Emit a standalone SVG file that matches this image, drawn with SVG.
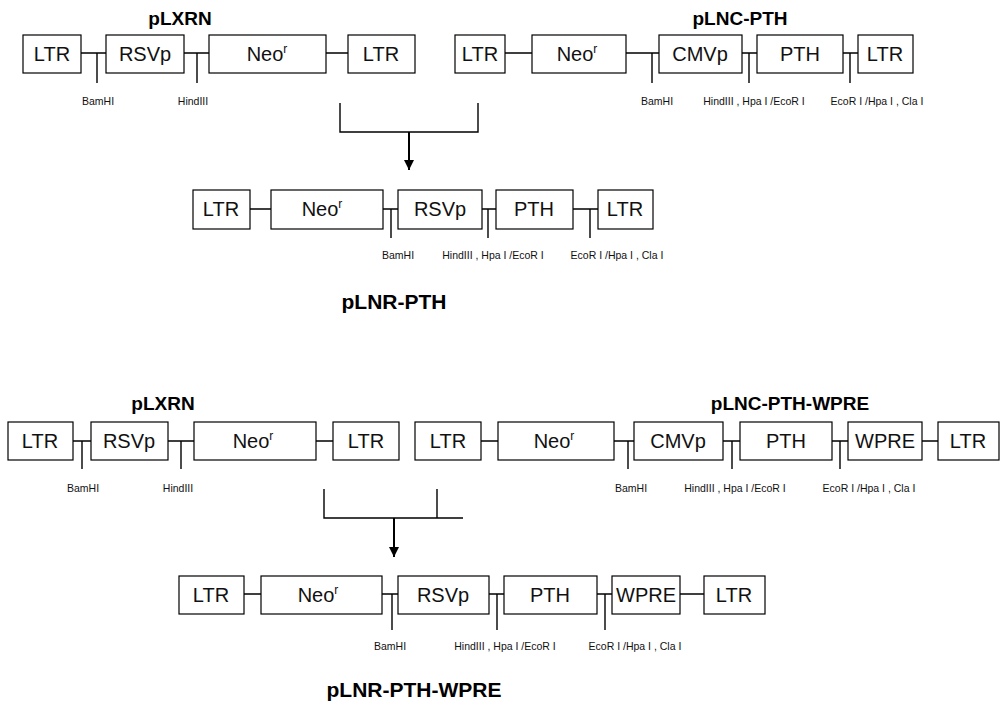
<svg xmlns="http://www.w3.org/2000/svg" width="1002" height="701" viewBox="0 0 1002 701">
<defs>
<style>
.b{fill:#fff;stroke:#000;stroke-width:1.2}
.t{font-family:"Liberation Sans",Arial,sans-serif;font-size:20px;text-anchor:middle;fill:#111}
.s{font-family:"Liberation Sans",Arial,sans-serif;font-size:10.5px;text-anchor:middle;fill:#111}
.h{font-family:"Liberation Sans",Arial,sans-serif;font-size:19px;font-weight:bold;text-anchor:middle;fill:#000}
.h2{font-family:"Liberation Sans",Arial,sans-serif;font-size:21px;font-weight:bold;text-anchor:middle;fill:#000}
.l{stroke:#000;stroke-width:1.4;fill:none}
.a{stroke:#000;stroke-width:2;fill:none}
.sup{font-size:12px}
</style>
<marker id="arr" viewBox="0 0 10 10" refX="10" refY="5" markerWidth="5" markerHeight="5" markerUnits="strokeWidth" orient="auto">
<path d="M0,0 L10,5 L0,10 z" fill="#000"/>
</marker>
</defs>
<rect width="1002" height="701" fill="#fff"/>

<g id="connectors">
<!-- row1 left -->
<path class="l" d="M81,53H106 M97,53V83 M184,53H209 M197,53V83 M326,53H348"/>
<!-- row1 right -->
<path class="l" d="M505,53H532 M626,53H659 M652,53V83 M742,53H757 M749,53V83 M843,53H858 M850,53V83"/>
<!-- bracket1 -->
<path class="l" d="M340,103V132H478V103"/>
<path class="a" d="M409,132V170" marker-end="url(#arr)"/>
<!-- row2 -->
<path class="l" d="M250,209H271 M383,209H398 M391,209V238 M482,209H496 M488,209V238 M573,209H598 M590,209V238"/>
<!-- row3 left -->
<path class="l" d="M73,441H91 M82,441V469 M168,441H194 M181,441V469 M316,441H333"/>
<!-- row3 right -->
<path class="l" d="M481,441H498 M614,441H634 M628,441V469 M723,441H740 M732,441V469 M832,441H848 M840,441V469 M922,441H938"/>
<!-- bracket2 -->
<path class="l" d="M324,489V518H463 M437,489V518"/>
<path class="a" d="M394,518V557" marker-end="url(#arr)"/>
<!-- row4 -->
<path class="l" d="M244,594H261 M382,594H398 M392,594V630 M489,594H504 M497,594V630 M597,594H612 M605,594V630 M680,594H704"/>
</g>

<!-- Row 1 left: pLXRN -->
<g id="pLXRN-1">
<text class="h" x="180" y="25">pLXRN</text>
<rect class="b" x="23" y="35" width="58" height="38"/><text class="t" x="52" y="61">LTR</text>
<rect class="b" x="106" y="35" width="78" height="38"/><text class="t" x="145" y="61">RSVp</text>
<rect class="b" x="209" y="35" width="117" height="38"/><text class="t" x="267" y="61">Neo<tspan class="sup" dy="-8">r</tspan></text>
<rect class="b" x="348" y="35" width="67" height="38"/><text class="t" x="381" y="61">LTR</text>
<text class="s" x="98" y="105">BamHI</text>
<text class="s" x="193" y="105">HindIII</text>
</g>

<!-- Row 1 right: pLNC-PTH -->
<g id="pLNC-PTH">
<text class="h" x="740" y="25">pLNC-PTH</text>
<rect class="b" x="455" y="35" width="50" height="38"/><text class="t" x="480" y="61">LTR</text>
<rect class="b" x="532" y="35" width="94" height="38"/><text class="t" x="577" y="61">Neo<tspan class="sup" dy="-8">r</tspan></text>
<rect class="b" x="659" y="35" width="83" height="38"/><text class="t" x="700" y="61">CMVp</text>
<rect class="b" x="757" y="35" width="86" height="38"/><text class="t" x="800" y="61">PTH</text>
<rect class="b" x="858" y="35" width="55" height="38"/><text class="t" x="885" y="61">LTR</text>
<text class="s" x="657" y="105">BamHI</text>
<text class="s" x="754" y="105">HindIII , Hpa I /EcoR I</text>
<text class="s" x="877" y="105">EcoR I /Hpa I , Cla I</text>
</g>

<!-- Row 2: pLNR-PTH -->
<g id="pLNR-PTH">
<rect class="b" x="193" y="190" width="57" height="39"/><text class="t" x="221" y="216">LTR</text>
<rect class="b" x="271" y="190" width="112" height="39"/><text class="t" x="322" y="216">Neo<tspan class="sup" dy="-8">r</tspan></text>
<rect class="b" x="398" y="190" width="84" height="39"/><text class="t" x="440" y="216">RSVp</text>
<rect class="b" x="496" y="190" width="77" height="39"/><text class="t" x="534" y="216">PTH</text>
<rect class="b" x="598" y="190" width="55" height="39"/><text class="t" x="625" y="216">LTR</text>
<text class="s" x="398" y="259">BamHI</text>
<text class="s" x="493" y="259">HindIII , Hpa I /EcoR I</text>
<text class="s" x="617" y="259">EcoR I /Hpa I , Cla I</text>
<text class="h2" x="394" y="309">pLNR-PTH</text>
</g>

<!-- Row 3 left: pLXRN -->
<g id="pLXRN-2">
<text class="h" x="163" y="410">pLXRN</text>
<rect class="b" x="8" y="422" width="65" height="38"/><text class="t" x="40" y="448">LTR</text>
<rect class="b" x="91" y="422" width="77" height="38"/><text class="t" x="129" y="448">RSVp</text>
<rect class="b" x="194" y="422" width="122" height="38"/><text class="t" x="253" y="448">Neo<tspan class="sup" dy="-8">r</tspan></text>
<rect class="b" x="333" y="422" width="66" height="38"/><text class="t" x="366" y="448">LTR</text>
<text class="s" x="83" y="492">BamHI</text>
<text class="s" x="178" y="492">HindIII</text>
</g>

<!-- Row 3 right: pLNC-PTH-WPRE -->
<g id="pLNC-PTH-WPRE">
<text class="h" x="790" y="410">pLNC-PTH-WPRE</text>
<rect class="b" x="415" y="422" width="66" height="38"/><text class="t" x="448" y="448">LTR</text>
<rect class="b" x="498" y="422" width="116" height="38"/><text class="t" x="554" y="448">Neo<tspan class="sup" dy="-8">r</tspan></text>
<rect class="b" x="634" y="422" width="89" height="38"/><text class="t" x="678" y="448">CMVp</text>
<rect class="b" x="740" y="422" width="92" height="38"/><text class="t" x="786" y="448">PTH</text>
<rect class="b" x="848" y="422" width="74" height="38"/><text class="t" x="885" y="448">WPRE</text>
<rect class="b" x="938" y="422" width="61" height="38"/><text class="t" x="968" y="448">LTR</text>
<text class="s" x="631" y="492">BamHI</text>
<text class="s" x="735" y="492">HindIII , Hpa I /EcoR I</text>
<text class="s" x="869" y="492">EcoR I /Hpa I , Cla I</text>
</g>

<!-- Row 4: pLNR-PTH-WPRE -->
<g id="pLNR-PTH-WPRE">
<rect class="b" x="179" y="576" width="65" height="38"/><text class="t" x="211" y="602">LTR</text>
<rect class="b" x="261" y="576" width="121" height="38"/><text class="t" x="318" y="602">Neo<tspan class="sup" dy="-8">r</tspan></text>
<rect class="b" x="398" y="576" width="91" height="38"/><text class="t" x="443" y="602">RSVp</text>
<rect class="b" x="504" y="576" width="93" height="38"/><text class="t" x="550" y="602">PTH</text>
<rect class="b" x="612" y="576" width="68" height="38"/><text class="t" x="646" y="602">WPRE</text>
<rect class="b" x="704" y="576" width="61" height="38"/><text class="t" x="734" y="602">LTR</text>
<text class="s" x="390" y="650">BamHI</text>
<text class="s" x="505" y="650">HindIII , Hpa I /EcoR I</text>
<text class="s" x="635" y="650">EcoR I /Hpa I , Cla I</text>
<text class="h2" x="414" y="697">pLNR-PTH-WPRE</text>
</g>
</svg>
